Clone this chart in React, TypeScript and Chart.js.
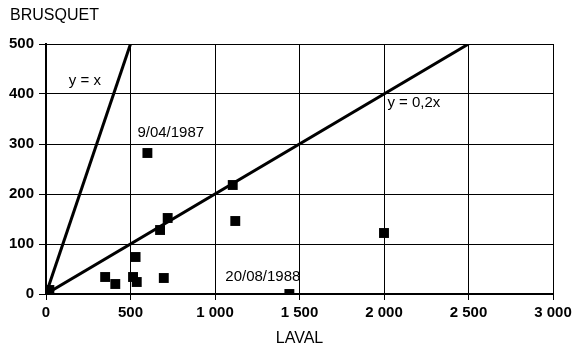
import React, { useEffect, useRef } from "react";
import { Chart, registerables } from "chart.js";

Chart.register(...registerables);

const lavalValues = [20, 350, 410, 515, 537, 530, 697, 675, 720, 1105, 1120, 1440, 2000, 600];
const brusquetValues = [8, 34, 20, 34, 24, 74, 32, 128, 152, 218, 146, 0, 122, 282];
const lineYX = [
  { x: 0, y: 0 },
  { x: 500, y: 500 },
];
const line02X = [
  { x: 0, y: 0 },
  { x: 2500, y: 500 },
];
const xTicks = [0, 500, 1000, 1500, 2000, 2500, 3000];
const yTicks = [0, 100, 200, 300, 400, 500];
const xTitle = "LAVAL";
const yTitle = "BRUSQUET";
const dateLabels = [
  { text: "9/04/1987", point: 13 },
  { text: "20/08/1988", point: 11 },
];
const lineLabels = [
  { text: "y = x", x: 135, y: 426 },
  { text: "y = 0,2x", x: 2020, y: 382 },
];

const FONT = "'Liberation Sans', Arial, sans-serif";

function fmt(v: number): string {
  const s = String(Math.round(v));
  return s.replace(/\B(?=(\d{3})+(?!\d))/g, " ");
}

const textPlugin = {
  id: "texts",
  afterDraw(chart: any) {
    const ctx = chart.ctx;
    const xs = chart.scales.x;
    const ys = chart.scales.y;
    const area = chart.chartArea;
    ctx.save();
    ctx.fillStyle = "#000";
    ctx.font = `16px ${FONT}`;
    ctx.textAlign = "left";
    ctx.textBaseline = "middle";
    ctx.fillText(yTitle, area.left - 36, 16);
    ctx.textAlign = "center";
    ctx.fillText(xTitle, (area.left + area.right) / 2, 339);

    ctx.font = `15px ${FONT}`;
    dateLabels.forEach((d, i) => {
      const px = xs.getPixelForValue(lavalValues[d.point]);
      const py = ys.getPixelForValue(brusquetValues[d.point]);
      if (i === 0) {
        ctx.textAlign = "left";
        ctx.textBaseline = "middle";
        ctx.fillText(d.text, px - 10, py - 20);
      } else {
        ctx.textAlign = "right";
        ctx.textBaseline = "middle";
        ctx.fillText(d.text, px + 11, py - 17);
      }
    });
    ctx.textAlign = "left";
    ctx.textBaseline = "middle";
    lineLabels.forEach((l) => {
      ctx.fillText(l.text, xs.getPixelForValue(l.x), ys.getPixelForValue(l.y));
    });
    ctx.restore();
  },
};

export default function App() {
  const ref = useRef<HTMLCanvasElement | null>(null);
  useEffect(() => {
    if (!ref.current) return;
    const points = lavalValues.map((x, i) => ({ x, y: brusquetValues[i] }));
    const chart = new Chart(ref.current, {
      type: "scatter",
      data: {
        datasets: [
          {
            data: points,
            pointStyle: "rect",
            pointRadius: 7,
            backgroundColor: "#000",
            borderColor: "#000",
            borderWidth: 0,
          },
          {
            data: lineYX,
            showLine: true,
            pointRadius: 0,
            borderColor: "#000",
            borderWidth: 3,
          },
          {
            data: line02X,
            showLine: true,
            pointRadius: 0,
            borderColor: "#000",
            borderWidth: 3,
          },
        ],
      },
      options: {
        responsive: false,
        animation: false,
        devicePixelRatio: 1,
        layout: { padding: { top: 44, right: 28, left: 0, bottom: 0 } },
        plugins: {
          legend: { display: false },
          tooltip: { enabled: false },
          title: { display: false },
        },
        scales: {
          x: {
            type: "linear",
            min: 0,
            max: 3000,
            afterFit: (s: any) => {
              s.height = 59;
            },
            afterBuildTicks: (s: any) => {
              s.ticks = xTicks.map((v) => ({ value: v }));
            },
            ticks: {
              color: "#000",
              font: { family: FONT, size: 15, weight: "bold" },
              padding: 4,
              maxRotation: 0,
              callback: (v: any) => fmt(Number(v)),
            },
            grid: {
              color: "#000",
              lineWidth: 1,
              tickLength: 6,
              tickColor: "#000",
            },
            border: { color: "#000", width: 2 },
          },
          y: {
            type: "linear",
            min: 0,
            max: 500,
            afterFit: (s: any) => {
              s.width = 46;
            },
            afterBuildTicks: (s: any) => {
              s.ticks = yTicks.map((v) => ({ value: v }));
            },
            ticks: {
              color: "#000",
              font: { family: FONT, size: 15, weight: "bold" },
              padding: 5,
              callback: (v: any) => fmt(Number(v)),
            },
            grid: {
              color: "#000",
              lineWidth: 1,
              tickLength: 7,
              tickColor: "#000",
            },
            border: { color: "#000", width: 2 },
          },
        },
      },
      plugins: [textPlugin],
    });
    return () => chart.destroy();
  }, []);
  return (
    <div style={{ position: "absolute", left: 0, top: 0, width: 581, height: 353, background: "#fff" }}>
      <canvas ref={ref} width={581} height={353} />
    </div>
  );
}
